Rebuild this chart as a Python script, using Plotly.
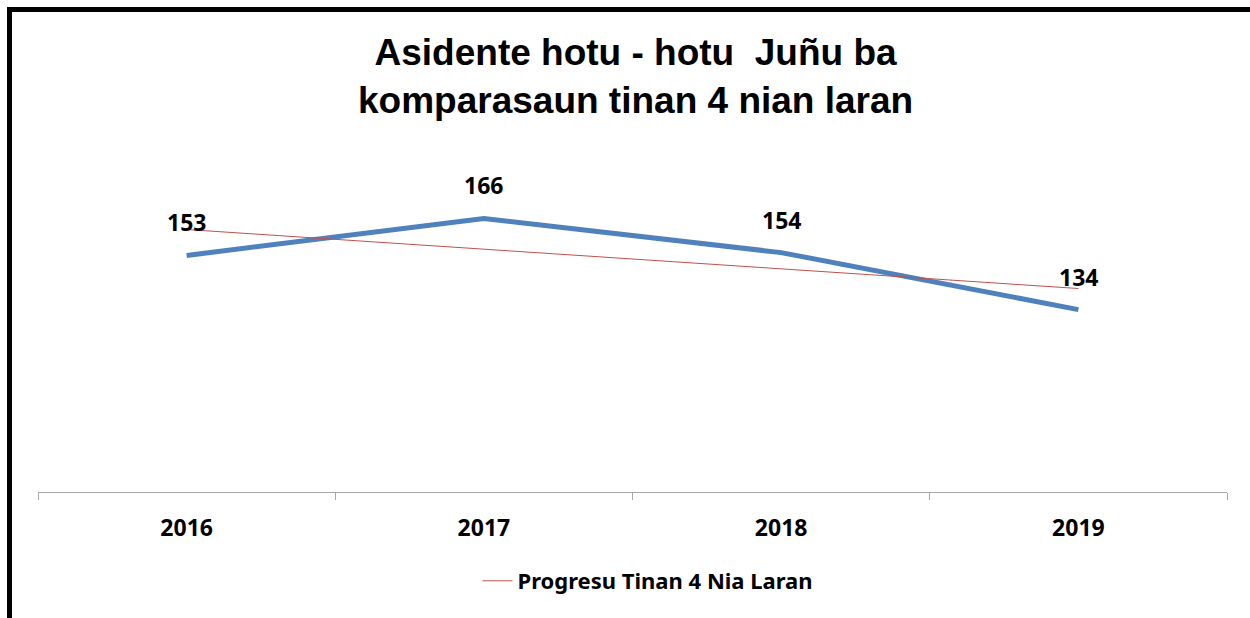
import numpy as np
import plotly.graph_objects as go

years = ["2016", "2017", "2018", "2019"]
values = [153, 166, 154, 134]
title_lines = ["Asidente hotu - hotu \u00a0Juñu ba", "komparasaun tinan 4 nian laran"]
trend_name = "Progresu Tinan 4 Nia Laran"

# linear trendline (as Excel computes it) over category index
idx = np.arange(1, len(values) + 1)
slope, intercept = np.polyfit(idx, values, 1)
trend = slope * idx + intercept

LBL_FONT = "Noto Sans"

fig = go.Figure()
fig.add_trace(go.Scatter(
    x=years, y=values, mode="lines",
    line=dict(color="#4F81BD", width=5),
    showlegend=False, hoverinfo="skip",
))
fig.add_trace(go.Scatter(
    x=years, y=trend, mode="lines",
    line=dict(color="#C0504D", width=1),
    name=trend_name,
))

for i, v in enumerate(values):
    fig.add_annotation(
        x=i, y=v, xref="x", yref="y", text=str(v), showarrow=False, yshift=33,
        font=dict(family=LBL_FONT, size=23, color="#000000", weight="bold"),
    )

W, H = 1250, 618
L, R, T, B = 38, 23, 150, 126
pw, ph = W - L - R, H - T - B
def px(x):
    return (x - L) / pw
def py(y):
    return (H - B - y) / ph

# title as a centred annotation
fig.add_annotation(
    text="<br>".join(title_lines), showarrow=False,
    xref="paper", yref="paper", x=px(636), xanchor="center",
    y=py(30), yanchor="top", align="center",
    font=dict(family="Liberation Sans, Arial", size=37, color="#000000", weight="bold"),
)

# black border on top and left (as in the picture)
fig.add_shape(type="rect", xref="paper", yref="paper",
              x0=px(7), x1=px(1250), y0=py(12), y1=py(7),
              fillcolor="black", line=dict(width=0), layer="above")
fig.add_shape(type="rect", xref="paper", yref="paper",
              x0=px(7), x1=px(12), y0=py(618), y1=py(7),
              fillcolor="black", line=dict(width=0), layer="above")

fig.update_layout(
    width=W, height=H,
    margin=dict(l=L, r=R, t=T, b=B),
    paper_bgcolor="white", plot_bgcolor="white",
    xaxis=dict(
        type="category", range=[-0.5, 3.5],
        showline=True, linecolor="#A6A6A6", linewidth=1,
        ticks="outside", tickson="boundaries", ticklen=7, tickcolor="#A6A6A6",
        showgrid=False, zeroline=False,
        tickfont=dict(family=LBL_FONT, size=23, color="#000000", weight="bold"),
        ticklabelstandoff=15,
    ),
    yaxis=dict(
        range=[70, 190], visible=False, showgrid=False, zeroline=False,
    ),
    legend=dict(
        orientation="h", x=px(648), xanchor="center", xref="paper",
        y=py(581), yanchor="middle",
        font=dict(family=LBL_FONT, size=22, color="#000000", weight="bold"),
        bgcolor="rgba(0,0,0,0)",
    ),
    showlegend=True,
)

fig.write_html("out.html", config={"displayModeBar": False},
               post_script="document.body.style.margin='0';")
